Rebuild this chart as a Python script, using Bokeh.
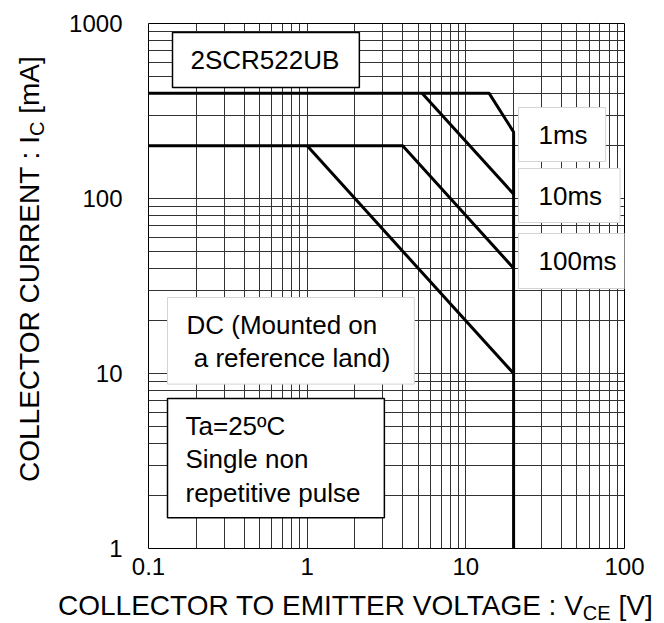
from bokeh.plotting import figure
from bokeh.models import (Range1d, FixedTicker, CustomJSTickFormatter, Label, Div)
from bokeh.layouts import row, column
from bokeh.embed import file_html
from bokeh.resources import INLINE

# ---- data ----
# 1 ms pulse limit (incl. the 20 V VCEO limit down to 1 mA)
ms1_v = [0.1, 14, 20, 20]
ms1_i = [400, 400, 240, 1]
# 10 ms pulse limit
ms10_v = [5.3, 20]
ms10_i = [400, 106]
# 100 ms pulse limit
ms100_v = [0.1, 4, 20]
ms100_i = [200, 200, 40]
# DC (mounted on a reference land)
dc_v = [1, 20]
dc_i = [200, 10]

x_major = [0.1, 1, 10, 100]
y_major = [1, 10, 100, 1000]
x_minor = [k * d for d in [0.1, 1, 10] for k in range(2, 10)]
y_minor = [k * d for d in [1, 10, 100] for k in range(2, 10)]

x_title = ("COLLECTOR TO EMITTER VOLTAGE : V", "CE", " [V]")
y_title = ("COLLECTOR CURRENT : I", "C", " [mA]")

FONT = "Liberation Sans"

# page geometry
W, H = 664, 623
LEFT_W = 48            # width of the y-title column
PLOT_H = 590           # height of the figure (x-title strip below)
FL, FR, FT, FB = 148, 624, 23, 548   # frame, page pixels

p = figure(width=W - LEFT_W, height=PLOT_H, x_axis_type="log", y_axis_type="log",
           x_range=Range1d(0.1, 100), y_range=Range1d(1, 1000),
           output_backend="svg", toolbar_location=None, title=None)
p.min_border_left = FL - LEFT_W
p.min_border_right = W - FR
p.min_border_top = FT
p.min_border_bottom = PLOT_H - FB
p.background_fill_color = "white"
p.border_fill_color = "white"
p.outline_line_color = "black"
p.outline_line_width = 1

p.xaxis.ticker = FixedTicker(ticks=x_major, minor_ticks=x_minor)
p.yaxis.ticker = FixedTicker(ticks=y_major, minor_ticks=y_minor)
fmt = CustomJSTickFormatter(code="return tick.toString();")
for ax in (p.xaxis, p.yaxis):
    ax.formatter = fmt
    ax.major_label_text_font = FONT
    ax.major_label_text_font_size = "24px"
    ax.major_label_text_color = "black"
    ax.major_tick_out = 0
    ax.major_tick_in = 0
    ax.minor_tick_out = 0
    ax.minor_tick_in = 0
    ax.axis_line_color = None
p.xaxis.major_label_standoff = 9
p.yaxis.major_label_standoff = 26

for g in (p.xgrid, p.ygrid):
    g.grid_line_color = "#333333"
    g.grid_line_width = 1
    g.minor_grid_line_color = "#333333"
    g.minor_grid_line_width = 1

for xs, ys in [(ms1_v, ms1_i), (ms10_v, ms10_i), (ms100_v, ms100_i), (dc_v, dc_i)]:
    p.line(xs, ys, line_color="black", line_width=3)

DX = (FR - FL) / 3.0
DY = (FB - FT) / 3.0


def px2x(px):
    return 0.1 * 10 ** ((px - FL) / DX)


def py2y(py):
    return 1000 * 10 ** (-(py - FT) / DY)


def box(text, left, top, pad, border, bw=1.5):
    lab = Label(x=px2x(left), y=py2y(top), text=text,
                text_font=FONT, text_font_size="26px", text_color="black",
                text_align="left", text_baseline="top", anchor="top_left",
                text_line_height=1.12,
                background_fill_color="white", background_fill_alpha=1.0,
                border_line_color=border, border_line_width=bw,
                padding=dict(left=pad[0], right=pad[1], top=pad[2], bottom=pad[3]))
    p.add_layout(lab)


NB = "\u00a0"
box("2SCR522UB", 172, 32, (18, 20, 12, 13), "black")
box("1ms", 518, 107, (20, 18, 12, 12), "#d4d4d4", 1)
box("10ms", 518, 168, (20, 18, 12, 12), "#d4d4d4", 1)
box("100ms", 518, 233, (20, 19, 12, 13), "#d4d4d4", 1)
box("DC (Mounted on\n" + NB + "a reference land)", 167, 297, (19, 24, 12, 11), "#d4d4d4", 1)
box("Ta=25ºC\nSingle non\nrepetitive pulse", 167, 398, (18, 24, 12, 10), "black")

# ---- axis titles with real subscripts (HTML text) ----
BIG, SMALL, SUB_DROP = 28, 20, 5
BASE = 23.7   # baseline offset inside a 28px line box
txt_style = (f"white-space:nowrap;font-family:'{FONT}';font-size:{BIG}px;"
             f"line-height:{BIG}px;color:black;")
sub_style = f"font-size:{SMALL}px;vertical-align:-{SUB_DROP}px;"


def title_html(parts):
    return (parts[0] + f"<span style=\"{sub_style}\">{parts[1]}</span>"
            + parts[2].replace(" ", "&nbsp;"))


# x title: starts at page x=58, baseline at page y=616
xdiv_h = H - PLOT_H
x_html = (f"<div style=\"position:relative;width:{W}px;height:{xdiv_h}px;\">"
          f"<div style=\"position:absolute;left:58px;top:{616 - PLOT_H - BASE:.1f}px;{txt_style}\">"
          f"{title_html(x_title)}</div></div>")
xdiv = Div(text=x_html, width=W, height=xdiv_h, margin=0, disable_math=True,
           styles={"overflow": "visible"})

# y title: rotated, baseline at page x=40, starts at page y=482
y_html = (f"<div style=\"position:relative;width:{LEFT_W}px;height:{PLOT_H}px;\">"
          f"<div style=\"position:absolute;left:{40 - BASE:.1f}px;top:482px;"
          f"transform-origin:0 0;transform:rotate(-90deg);{txt_style}\">"
          f"{title_html(y_title)}</div></div>")
ydiv = Div(text=y_html, width=LEFT_W, height=PLOT_H, margin=0, disable_math=True,
           styles={"overflow": "visible"})

layout = column(row(ydiv, p, spacing=0), xdiv, spacing=0)

open("out.html", "w").write(file_html(layout, INLINE))
